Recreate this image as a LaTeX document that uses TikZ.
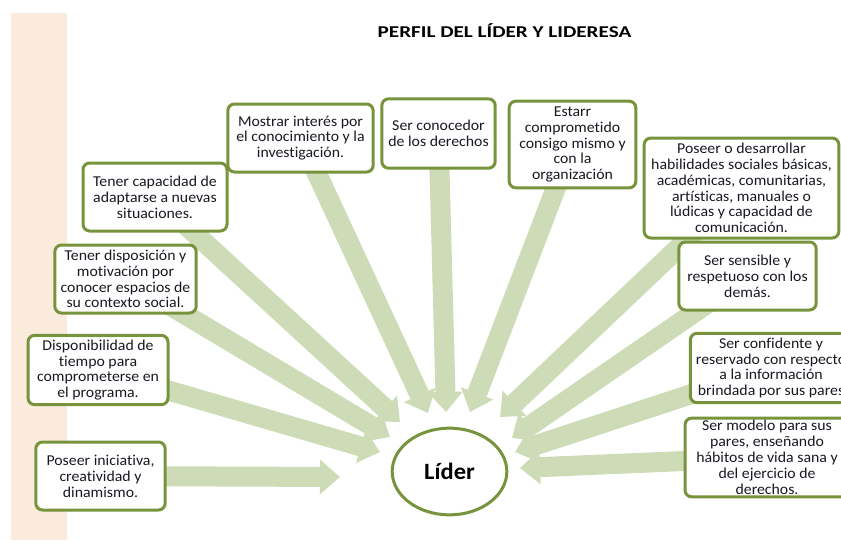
\documentclass[tikz,border=0pt]{standalone}
\usepackage{fontspec}
\setmainfont[Ligatures=NoCommon, FakeStretch=1.05]{Carlito}
\newfontfamily\titlefont[Ligatures=NoCommon, FakeStretch=1.28]{Carlito}
\usetikzlibrary{arrows.meta,shapes.geometric}
\definecolor{boxgreen}{RGB}{119,147,60}
\definecolor{arrowc}{RGB}{205,220,182}
\definecolor{beige}{RGB}{251,235,221}
\definecolor{txt}{RGB}{25,25,35}
\pgfdeclarelayer{bg}
\pgfdeclarelayer{mid}
\pgfsetlayers{bg,mid,main}
\tikzset{
  box/.style={draw=boxgreen, line width=2.25pt, rounded corners=5pt, fill=white,
    align=center, inner sep=0pt, text=txt,
    font=\fontsize{11.3pt}{11.9pt}\selectfont},
  arr/.style={draw=arrowc, line width=15pt, -{Triangle[length=15pt,width=25pt]}},
}
\begin{document}
\begin{tikzpicture}[x=0.75pt,y=-0.75pt]
\useasboundingbox (0,0) rectangle (841,540);
\begin{pgfonlayer}{bg}
\fill[beige] (11,13) rectangle (67,540);
\end{pgfonlayer}

\node[font=\titlefont\fontsize{12.4pt}{14pt}\selectfont\bfseries, text=black] (title) at (504.5,31) {PERFIL DEL LÍDER Y LIDERESA};

\node[box, minimum width=109pt, minimum height=51pt] (mostrar) at (300.5,138) {Mostrar interés por\\el conocimiento y la\\investigación.};
\node[box, minimum width=108pt, minimum height=51pt] (capacidad) at (155,197) {Tener capacidad de\\adaptarse a nuevas\\situaciones.};
\node[box, minimum width=85pt, minimum height=52pt] (conocedor) at (438.5,133.5) {Ser conocedor\\de los derechos};
\node[box, minimum width=95pt, minimum height=65pt] (estarr) at (572.5,144.5) {Estarr\\comprometido\\consigo mismo y\\con la\\organización};
\node[box, minimum width=146pt, minimum height=75pt] (poseer) at (741.5,188) {Poseer o desarrollar\\habilidades sociales básicas,\\académicas, comunitarias,\\artísticas, manuales o\\lúdicas y capacidad de\\comunicación.};
\node[box, minimum width=103pt, minimum height=51pt] (sensible) at (747.5,276) {Ser sensible y\\respetuoso con los\\demás.};
\node[box, minimum width=121pt, minimum height=52pt] (confidente) at (771,368) {Ser confidente y\\reservado con respecto\\a la información\\brindada por sus pares};
\node[box, minimum width=123pt, minimum height=59pt] (modelo) at (767,457.5) {Ser modelo para sus\\pares, enseñando\\hábitos de vida sana y\\del ejercicio de\\derechos.};
\node[box, minimum width=106pt, minimum height=51pt] (disposicion) at (125.5,279) {Tener disposición y\\motivación por\\conocer espacios de\\su contexto social.};
\node[box, minimum width=105pt, minimum height=52pt] (disponibilidad) at (98,370) {Disponibilidad de\\tiempo para\\comprometerse en\\el programa.};
\node[box, minimum width=97pt, minimum height=51pt] (iniciativa) at (100.5,476) {Poseer iniciativa,\\creatividad y\\dinamismo.};

\node[draw=boxgreen, line width=2.25pt, fill=white, shape=ellipse, minimum width=86pt, minimum height=65pt, inner sep=0pt,
  font=\fontsize{17.5pt}{19pt}\selectfont\bfseries, text=black] (lider) at (449.5,471.5) {Líder};

\coordinate (t1) at (428,413);
\coordinate (t2) at (400,422);
\coordinate (t3) at (446,412);
\coordinate (t4) at (470,412);
\coordinate (t5) at (500,417);
\coordinate (t6) at (512,438);
\coordinate (t7) at (515,452);
\coordinate (t8) at (520,468);
\coordinate (t9) at (390,437);
\coordinate (t10) at (380,452);
\coordinate (t11) at (340,477);

\begin{pgfonlayer}{mid}
\draw[arr] (mostrar.center) -- (t1);
\draw[arr] (capacidad.center) -- (t2);
\draw[arr] (conocedor.center) -- (t3);
\draw[arr] (estarr.center) -- (t4);
\draw[arr] (poseer.center) -- (t5);
\draw[arr] (sensible.center) -- (t6);
\draw[arr] (confidente.center) -- (t7);
\draw[arr] (modelo.center) -- (t8);
\draw[arr] (disposicion.center) -- (t9);
\draw[arr] (disponibilidad.center) -- (t10);
\draw[arr] (iniciativa.center) -- (t11);
\end{pgfonlayer}
\end{tikzpicture}
\end{document}
